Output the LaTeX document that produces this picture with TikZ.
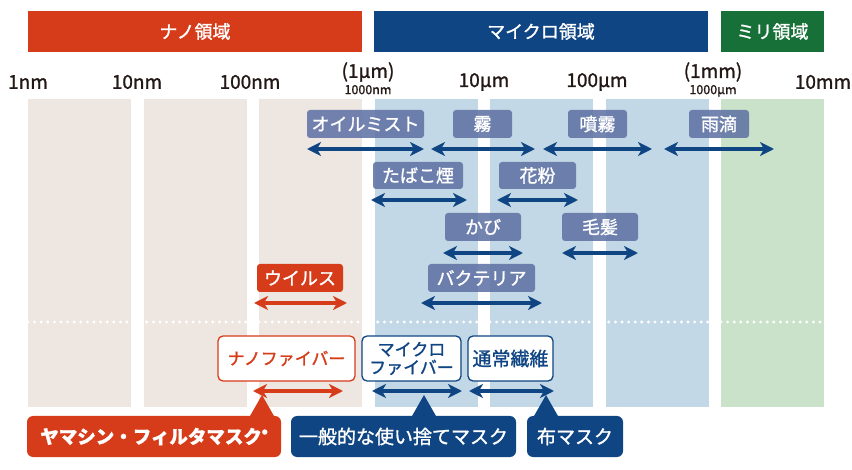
\documentclass[tikz,border=0pt]{standalone}
\usepackage{fontspec}
\setmainfont{Noto Sans CJK JP}[FakeBold=1.3]
\usepackage{xcolor}
\usepackage{tikz}
\usetikzlibrary{arrows.meta,positioning}
\definecolor{nanoc}{HTML}{D63C1A}
\definecolor{microc}{HTML}{0F4583}
\definecolor{milic}{HTML}{177038}
\definecolor{nanobg}{HTML}{EEE7E1}
\definecolor{microbg}{HTML}{C3D8E6}
\definecolor{milibg}{HTML}{C9E2C9}
\definecolor{slatec}{HTML}{5C6FA3}
\definecolor{inkc}{HTML}{231815}
\tikzset{
  band/.style={minimum height=41pt,inner sep=0pt,text=white,font=\fontsize{18}{20}\selectfont},
  tick/.style={inner sep=0pt,text=inkc,font=\fontsize{19}{21}\selectfont},
  subtick/.style={inner sep=0pt,text=inkc,font=\fontsize{12.5}{14}\selectfont},
  item/.style={fill=slatec,fill opacity=0.85,text opacity=1,text=white,rounded corners=3pt,minimum height=28pt,inner sep=0pt,font=\fontsize{18}{20}\selectfont},
  fiber/.style={fill=white,draw,line width=1.3pt,rounded corners=5pt,minimum height=45pt,inner sep=0pt,align=center,font=\fontsize{17}{18}\selectfont},
  mask/.style={text=white,rounded corners=6pt,minimum height=41pt,inner sep=0pt,font=\fontsize{19}{21}\selectfont},
  rng/.style={line width=4pt,microc,arrows={Stealth[length=14pt,width=14pt,inset=4pt]-Stealth[length=14pt,width=14pt,inset=4pt]}}
}
\begin{document}
\begin{tikzpicture}[x=1pt,y=-1pt]
\useasboundingbox (0,0) rectangle (852,470);
% size columns
\foreach \i/\c in {0/nanobg,1/nanobg,2/nanobg,3/microbg,4/microbg,5/microbg,6/milibg}
  \fill[\c] ({28+115.5*\i},99) rectangle ({131+115.5*\i},407);
\draw[white,line width=3.2pt,line cap=round,dash pattern=on 0pt off 6.6pt] (28,322) -- (824,322);

% domain bands
\node[band,fill=nanoc,minimum width=334pt] (nano) at (195,31.5) {ナノ領域};
\node[band,fill=microc,minimum width=334pt] (micro) at (541,31.5) {マイクロ領域};
\node[band,fill=milic,minimum width=103pt] (mili) at (772.5,31.5) {ミリ領域};

% scale
\node[tick] (t1) at (28,82) {1nm};
\node[tick] (t2) at (137,82) {10nm};
\node[tick] (t3) at (250,82) {100nm};
\node[tick] (t4) at (368,72) {(1μm)};
\node[subtick,below=3pt of t4] (t4s) {1000nm};
\node[tick] (t5) at (484,82) {10μm};
\node[tick] (t6) at (597,82) {100μm};
\node[tick] (t7) at (713,72) {(1mm)};
\node[subtick,below=3pt of t7] (t7s) {1000μm};
\node[tick] (t8) at (823,82) {10mm};

% particles
\node[item,minimum width=117pt] (oil) at (365.5,124) {オイルミスト};
\node[item,minimum width=59pt] (fog) at (482.5,124) {霧};
\node[item,minimum width=59pt] (spray) at (597.5,124) {噴霧};
\node[item,minimum width=60pt] (rain) at (719,124) {雨滴};
\node[item,minimum width=90pt,minimum height=27pt] (smoke) at (418,175.5) {たばこ煙};
\node[item,minimum width=77pt,minimum height=27pt] (pollen) at (537.5,175.5) {花粉};
\node[item,minimum width=76pt] (mold) at (483,227) {かび};
\node[item,minimum width=76pt] (hair) at (600,227) {毛髪};
\node[item,fill=nanoc,fill opacity=1,minimum width=86pt] (virus) at (300,278) {ウイルス};
\node[item,minimum width=107pt] (bact) at (481.5,278) {バクテリア};

\foreach \n/\a/\b/\y in {oil/307/424/149,fog/431/535/149,spray/543/652/149,rain/664/774/149,
    smoke/371/467/200,pollen/497/578/200,mold/443/523/253,hair/562/638/253,bact/421/542/303,
    micf/372/462/391,norf/469/554/391}{
  \coordinate (\n-l) at (\a,\y);
  \coordinate (\n-r) at (\b,\y);
  \draw[rng] (\n-l) -- (\n-r);
}
\coordinate (virus-l) at (254,303);
\coordinate (virus-r) at (347,303);
\draw[rng,nanoc] (virus-l) -- (virus-r);

% fibers
\node[fiber,draw=nanoc,text=nanoc] (nanof) at (286.5,358.5) [minimum width=137pt] {ナノファイバー};
\node[fiber,draw=microc,text=microc] (micf) at (411.5,358.5) [minimum width=99pt] {マイクロ\\ファイバー};
\node[fiber,draw=microc,text=microc,font=\fontsize{19}{21}\selectfont] (norf) at (510.5,358.5) [minimum width=85pt] {通常繊維};
\coordinate (nanof-l) at (253,391);
\coordinate (nanof-r) at (343,391);
\draw[rng,nanoc] (nanof-l) -- (nanof-r);

% masks
\node[mask,fill=nanoc,minimum width=254pt,font=\bfseries\fontsize{18.5}{21}\selectfont] (yam) at (154,436.5) {ヤマシン・フィルタマスク\raisebox{5pt}{\fontsize{11}{11}\selectfont ®}};
\node[mask,fill=microc,minimum width=225pt] (disp) at (403.5,436.5) {一般的な使い捨てマスク};
\node[mask,fill=microc,minimum width=96pt] (cloth) at (575,436.5) {布マスク};
\coordinate (yamtip) at (262,395);
\coordinate (disptip) at (424,395);
\coordinate (clothtip) at (546,395);
\foreach \m/\t/\c in {yam/yamtip/nanoc,disp/disptip/microc,cloth/clothtip/microc}
  \fill[\c] (\t) -- ([xshift=-13pt,yshift=-2pt]\t |- \m.north) -- ([xshift=13pt,yshift=-2pt]\t |- \m.north) -- cycle;
\end{tikzpicture}
\end{document}
